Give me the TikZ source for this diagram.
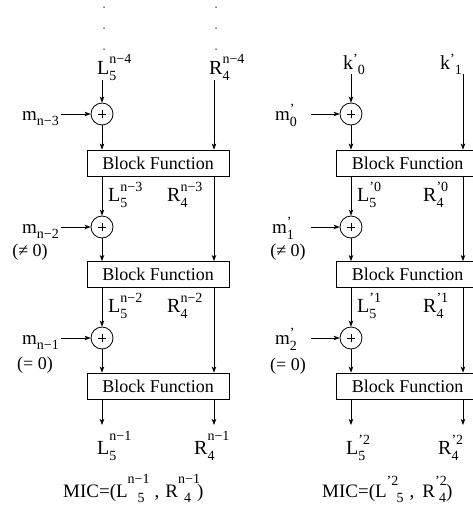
\documentclass[tikz,border=0pt]{standalone}
\usepackage{fontspec}
\setmainfont{Liberation Serif}
\usetikzlibrary{arrows.meta}
\newcommand\fs[1]{\fontsize{#1}{#1}\selectfont}
\newcommand\scr[1]{{\fs{14}#1}}
% base, sub, sup, sup raise
\newcommand\stk[4]{#1\rlap{\raisebox{-6pt}{\scr{#2}}}\raisebox{#4}{\scr{#3}}}
\tikzset{
  arr/.style={-{Stealth[length=6pt,width=4.5pt,inset=1.5pt]}, line width=0.8pt},
  lab/.style={inner sep=0pt, anchor=base west, font=\fs{20}},
  mlab/.style={inner sep=0pt, anchor=base west, font=\fs{19}},
  cond/.style={inner sep=0pt, font=\fs{18}},
  bfun/.style={draw, line width=0.8pt, minimum width=142pt, minimum height=26pt, inner sep=0pt, font=\fs{18}},
  oplus/.style={draw, circle, line width=0.8pt, minimum size=22pt, inner sep=0pt,
    path picture={\draw[line width=0.7pt] ([xshift=-4.3pt]path picture bounding box.center) -- ([xshift=4.3pt]path picture bounding box.center)
      ([yshift=-4.3pt]path picture bounding box.center) -- ([yshift=4.3pt]path picture bounding box.center);}},
}
\begin{document}
\begin{tikzpicture}[x=1pt,y=-1pt]
\useasboundingbox (0,0) rectangle (473,512);
\clip (0,0) rectangle (473,512);
% ---------------- left diagram ----------------
\foreach \yy in {7,28,49}{\fill (104,\yy) circle (0.75pt); \fill (216,\yy) circle (0.75pt);}
\node[lab] (L0) at (97,74) {\stk{L}{5}{n−4}{11pt}};
\node[lab] (R0) at (209,74) {\stk{R}{4}{n−4}{11pt}};
\coordinate (rt) at (214,80);
\node[oplus] (ox1) at (102,114) {};
\node[oplus] (ox2) at (102,227) {};
\node[oplus] (ox3) at (102,338) {};
\node[mlab] (m1) at (22,120) {m\raisebox{-5pt}{\scr{n−3}}};
\node[mlab] (m2) at (22,233) {m\raisebox{-5pt}{\scr{n−2}}};
\node[mlab] (m3) at (22,344) {m\raisebox{-5pt}{\scr{n−1}}};
\node[cond] (c2) at (30,252) {(≠ 0)};
\node[cond] (c3) at (35,365) {(= 0)};
\node[bfun] (b1) at (158,163) {Block Function};
\node[bfun] (b2) at (158,274.5) {Block Function};
\node[bfun] (b3) at (158,386) {Block Function};
\node[lab] (L1) at (108,201) {\stk{L}{5}{n−3}{10pt}};
\node[lab] (R1) at (167,201) {\stk{R}{4}{n−3}{10pt}};
\node[lab] (L2) at (108,312) {\stk{L}{5}{n−2}{10pt}};
\node[lab] (R2) at (167,312) {\stk{R}{4}{n−2}{10pt}};
\coordinate (lo) at (102,425);
\coordinate (ro) at (214,425);
\node[lab] (L3) at (97,454) {\stk{L}{5}{n−1}{14pt}};
\node[lab] (R3) at (194,454) {\stk{R}{4}{n−1}{14pt}};
\node[lab, font=\fs{19}] (mic1) at (63,497) {MIC=(L\rlap{\raisebox{14pt}{\scr{n−1}}}\hspace{10pt}\raisebox{-5pt}{\scr{5}}\hspace{10pt},\hspace{6pt}R\rlap{\raisebox{14pt}{\scr{n−1}}}\hspace{6pt}\raisebox{-5pt}{\scr{4}}\hspace{6pt})};
\draw[arr] (ox1 |- L0.south) -- (ox1);
\draw[arr] (rt) -- (rt |- b1.north);
\draw[arr] (m1.east |- ox1) ++(2pt,0) -- (ox1);
\draw[arr] (ox1) -- (ox1 |- b1.north);
\draw[arr] (ox2 |- b1.south) -- (ox2);
\draw[arr] (rt |- b1.south) -- (rt |- b2.north);
\draw[arr] (m2.east |- ox2) ++(2pt,0) -- (ox2);
\draw[arr] (ox2) -- (ox2 |- b2.north);
\draw[arr] (ox3 |- b2.south) -- (ox3);
\draw[arr] (rt |- b2.south) -- (rt |- b3.north);
\draw[arr] (m3.east |- ox3) ++(2pt,0) -- (ox3);
\draw[arr] (ox3) -- (ox3 |- b3.north);
\draw[arr] (lo |- b3.south) -- (lo);
\draw[arr] (ro |- b3.south) -- (ro);
% ---------------- right diagram ----------------
\node[lab] (k0) at (343,69) {k\raisebox{6pt}{\scr{’}}\raisebox{-5pt}{\scr{0}}};
\node[lab] (k1) at (440,69) {k\raisebox{6pt}{\scr{’}}\raisebox{-5pt}{\scr{1}}};
\coordinate (rtp) at (463,80);
\node[oplus] (oy1) at (351,114) {};
\node[oplus] (oy2) at (351,227) {};
\node[oplus] (oy3) at (351,338) {};
\node[mlab] (n1) at (275,120) {\stk{m}{0}{’}{7pt}};
\node[mlab] (n2) at (272,233) {\stk{m}{1}{’}{7pt}};
\node[mlab] (n3) at (275,344) {\stk{m}{2}{’}{7pt}};
\coordinate (ms1) at (311,114);
\coordinate (ms2) at (311,227);
\coordinate (ms3) at (311,338);
\node[cond] (d2) at (288,252) {(≠ 0)};
\node[cond] (d3) at (288,366) {(= 0)};
\node[bfun] (e1) at (407.5,163) {Block Function};
\node[bfun] (e2) at (407.5,274.5) {Block Function};
\node[bfun] (e3) at (407.5,386) {Block Function};
\node[lab] (P1) at (357,201) {\stk{L}{5}{’0}{10pt}};
\node[lab] (Q1) at (423,201) {\stk{R}{4}{’0}{10pt}};
\node[lab] (P2) at (357,312) {\stk{L}{5}{’1}{10pt}};
\node[lab] (Q2) at (423,312) {\stk{R}{4}{’1}{10pt}};
\coordinate (lop) at (351,425);
\coordinate (rop) at (463,425);
\node[lab] (P3) at (346,454) {\stk{L}{5}{’2}{10pt}};
\node[lab] (Q3) at (438,454) {\stk{R}{4}{’2}{10pt}};
\node[lab, font=\fs{19}] (mic2) at (322,497) {MIC=(L\rlap{\raisebox{12pt}{\scr{’2}}}\hspace{10pt}\raisebox{-5pt}{\scr{5}}\hspace{6pt},\hspace{8pt}R\rlap{\raisebox{12pt}{\scr{’2}}}\hspace{4pt}\raisebox{-5pt}{\scr{4}})};
\draw[arr] (oy1 |- k0.south) -- (oy1);
\draw[arr] (rtp |- k1.south) -- (rtp |- e1.north);
\draw[arr] (ms1) -- (oy1);
\draw[arr] (oy1) -- (oy1 |- e1.north);
\draw[arr] (oy2 |- e1.south) -- (oy2);
\draw[arr] (rtp |- e1.south) -- (rtp |- e2.north);
\draw[arr] (ms2) -- (oy2);
\draw[arr] (oy2) -- (oy2 |- e2.north);
\draw[arr] (oy3 |- e2.south) -- (oy3);
\draw[arr] (rtp |- e2.south) -- (rtp |- e3.north);
\draw[arr] (ms3) -- (oy3);
\draw[arr] (oy3) -- (oy3 |- e3.north);
\draw[arr] (lop |- e3.south) -- (lop);
\draw[arr] (rop |- e3.south) -- (rop);
\end{tikzpicture}
\end{document}
